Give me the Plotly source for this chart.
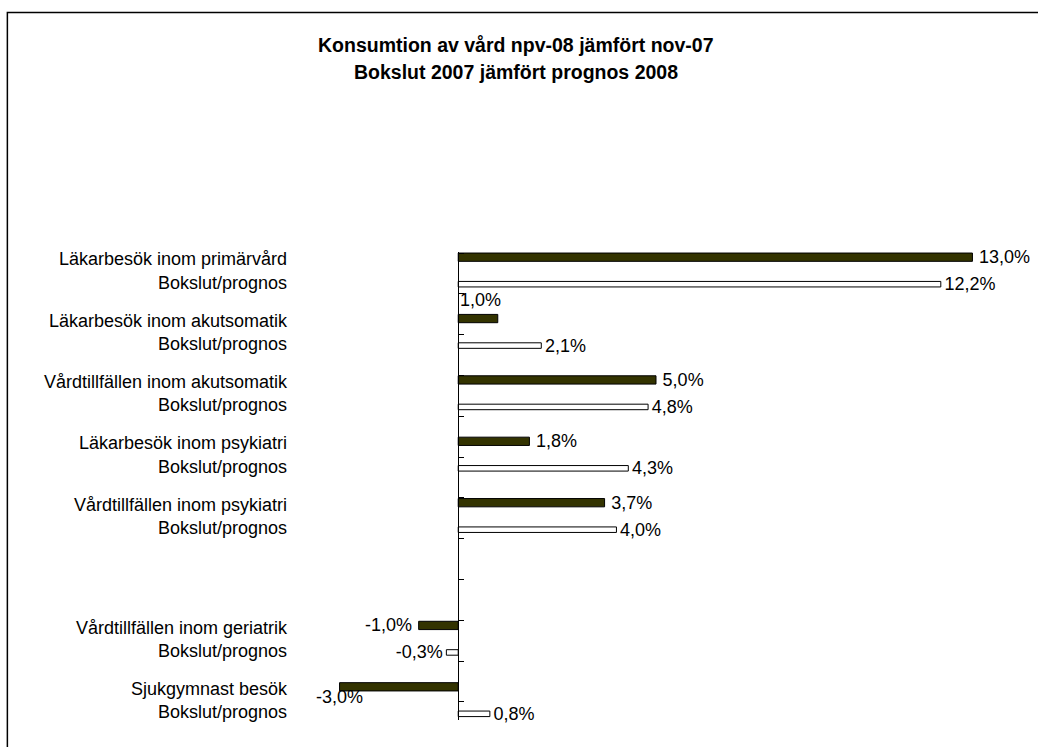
import plotly.graph_objects as go

categories = [
    "Läkarbesök inom primärvård<br>Bokslut/prognos",
    "Läkarbesök inom akutsomatik<br>Bokslut/prognos",
    "Vårdtillfällen inom akutsomatik<br>Bokslut/prognos",
    "Läkarbesök inom psykiatri<br>Bokslut/prognos",
    "Vårdtillfällen inom psykiatri<br>Bokslut/prognos",
    " ",
    "Vårdtillfällen inom geriatrik<br>Bokslut/prognos",
    "Sjukgymnast besök<br>Bokslut/prognos",
]
bokslut = [13.0, 1.0, 5.0, 1.8, 3.7, None, -1.0, -3.0]
prognos = [12.2, 2.1, 4.8, 4.3, 4.0, None, -0.3, 0.8]

title_line1 = "Konsumtion av vård npv-08 jämfört nov-07"
title_line2 = "Bokslut 2007 jämfört prognos 2008"

FONT = "Liberation Sans, Arial, sans-serif"
FS = 18
DARK = "#333300"
TS = "\u2009"  # thin space used as padding between bar end and label


def fmt(v):
    return f"{v:.1f}%".replace(".", ",")


def tmpl(vals):
    out = []
    for v in vals:
        if v is not None and v < 0:
            out.append("%{x:.1f}%" + TS)
        else:
            out.append(TS + "%{x:.1f}%")
    return out


# labels that are placed specially (annotations) in the original
special_dark = {1: (5, 32, "right"), 7: (0, 3, "center")}

dark_pos = ["none" if i in special_dark else "outside" for i in range(len(categories))]

fig = go.Figure()
fig.add_trace(go.Bar(
    y=categories, x=bokslut, orientation="h",
    marker=dict(color=DARK, line=dict(color="black", width=1)),
    width=0.135, offset=-0.2875,
    texttemplate=tmpl(bokslut), textposition=dark_pos,
    textfont=dict(family=FONT, size=FS, color="black"),
    constraintext="none", cliponaxis=False,
    hoverinfo="skip", showlegend=False,
))
fig.add_trace(go.Bar(
    y=categories, x=prognos, orientation="h",
    marker=dict(color="white", line=dict(color="black", width=1)),
    width=0.09, offset=0.175,
    texttemplate=tmpl(prognos), textposition="outside",
    textfont=dict(family=FONT, size=FS, color="black"),
    constraintext="none", cliponaxis=False,
    hoverinfo="skip", showlegend=False,
))
# blank trace so the tick-mark axis at x=0 is drawn
fig.add_trace(go.Scatter(x=[None], y=[None], yaxis="y2", xaxis="x",
                         hoverinfo="skip", showlegend=False))

for i, (xs, ys, xa) in special_dark.items():
    fig.add_annotation(x=bokslut[i], y=categories[i], xref="x", yref="y",
                       text=fmt(bokslut[i]), showarrow=False,
                       xanchor=xa, yanchor="middle", xshift=xs, yshift=ys,
                       font=dict(family=FONT, size=FS, color="black"))

fig.add_annotation(x=0.3034, y=1.397, xref="paper", yref="paper",
                   text=f"<b>{title_line1}</b>", showarrow=False,
                   xanchor="center", yanchor="middle",
                   font=dict(family=FONT, size=19.5, color="black"))
fig.add_annotation(x=0.3034, y=1.342, xref="paper", yref="paper",
                   text=f"<b>{title_line2}</b>", showarrow=False,
                   xanchor="center", yanchor="middle",
                   font=dict(family=FONT, size=19.5, color="black"))

# chart border (left and top visible)
fig.add_shape(type="rect", xref="paper", yref="paper",
              x0=-0.411, x1=1.2, y0=-0.2, y1=1.4634,
              line=dict(color="black", width=1.5), fillcolor="rgba(0,0,0,0)")

fig.update_layout(
    width=1038, height=747,
    margin=dict(l=300, r=26, t=240, b=16),
    paper_bgcolor="white", plot_bgcolor="rgba(0,0,0,0)",
    barmode="overlay",
    separators=", ",
    font=dict(family=FONT, size=FS, color="black"),
    xaxis=dict(range=[-4, 14], showticklabels=False, showgrid=False,
               zeroline=False, showline=False, ticks="", fixedrange=True),
    yaxis=dict(type="category", categoryorder="array", categoryarray=categories,
               autorange="reversed", showgrid=False, zeroline=False,
               showline=False, ticks="", ticklabelstandoff=12,
               tickfont=dict(family=FONT, size=FS, color="black")),
    yaxis2=dict(anchor="free", position=0.2222, side="left",
                domain=[0.0224, 0.9756], range=[0, 11.47],
                tick0=0.445, dtick=1, ticks="inside", ticklen=5,
                tickcolor="black", tickwidth=1,
                showline=True, linecolor="black", linewidth=1,
                showticklabels=False, showgrid=False, zeroline=False),
)

fig.write_html("out.html", config={"displayModeBar": False},
               post_script="document.body.style.margin='0';document.body.style.overflow='hidden';")
